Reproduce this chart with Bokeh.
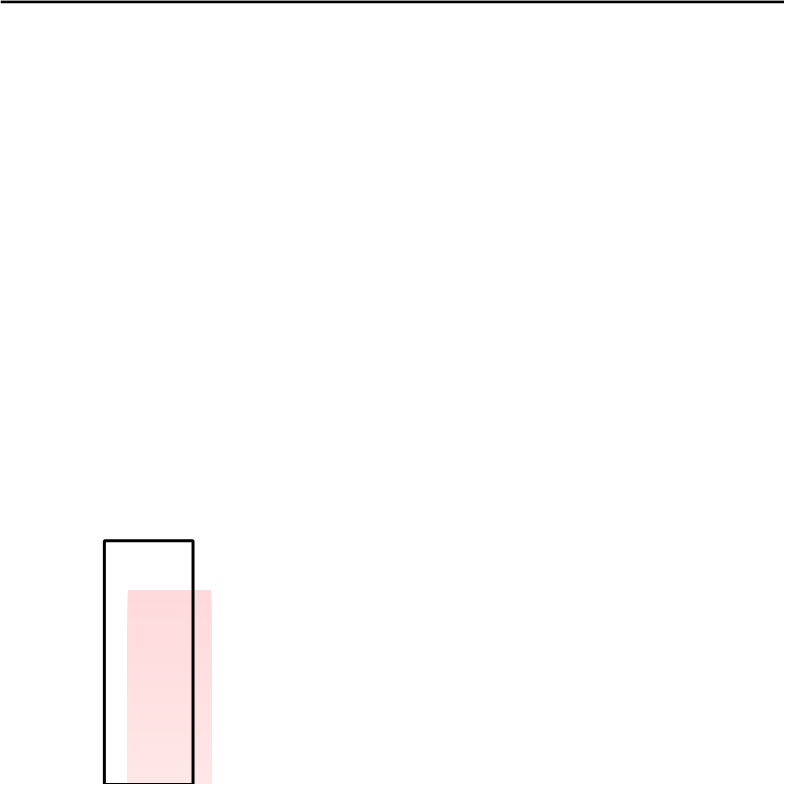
from bokeh.plotting import figure
from bokeh.models import Range1d, Span, ColumnDataSource
from bokeh.embed import file_html
from bokeh.resources import INLINE

# data
categories = ["A"]
target_values = [31.1]
actual_values = [24.8]

p = figure(width=784, height=784, output_backend="svg", toolbar_location=None,
           x_range=Range1d(-0.526, 2.074), y_range=Range1d(0, 100),
           min_border=0, min_border_left=0, min_border_right=0,
           min_border_top=0, min_border_bottom=0)
p.axis.visible = False
p.grid.visible = False
p.outline_line_color = None
p.background_fill_color = "white"
p.border_fill_color = "white"

xs = list(range(len(categories)))

# actual bar with vertical gradient (top darker pink, bottom lighter),
# drawn as overlapping bars so no seams appear
n = 40
top_rgb = (255, 218, 220)
bot_rgb = (255, 232, 232)
for i, v in enumerate(actual_values):
    for k in range(n, 0, -1):
        t = k / n
        r = int(bot_rgb[0] + (top_rgb[0] - bot_rgb[0]) * t)
        g = int(bot_rgb[1] + (top_rgb[1] - bot_rgb[1]) * t)
        b = int(bot_rgb[2] + (top_rgb[2] - bot_rgb[2]) * t)
        p.quad(left=xs[i] + 0.0345 - 0.1385, right=xs[i] + 0.0345 + 0.1385,
               bottom=-5, top=v * t,
               fill_color=(r, g, b), line_color=None)

# target outline bar
src = ColumnDataSource(dict(x=[x - 0.0345 for x in xs], top=target_values))
p.vbar(x="x", top="top", bottom=-5, width=0.294, source=src,
       fill_color=None, line_color="black", line_width=3)

p.add_layout(Span(location=99.85, dimension="width", line_color="black", line_width=3))

open("out.html", "w").write(file_html(p, INLINE))
